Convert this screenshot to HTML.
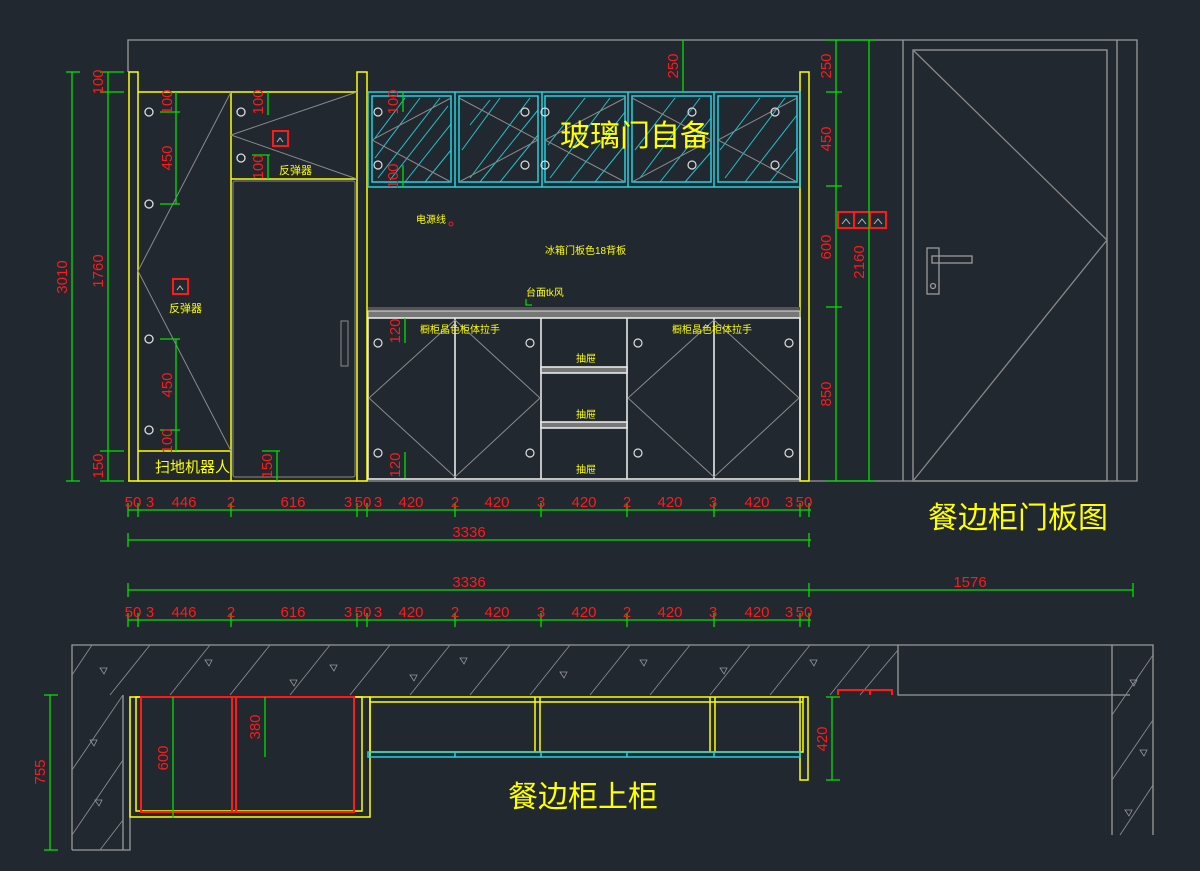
<!DOCTYPE html>
<html><head><meta charset="utf-8"><style>
html,body{margin:0;padding:0;background:#212830;}
svg{display:block;}
.r{fill:#ff1a1a;font-family:"Liberation Sans Narrow","Liberation Sans",sans-serif;font-size:15px;}
.y{fill:#ffff00;font-family:"Liberation Sans","Noto Sans CJK SC",sans-serif;}
</style></head><body>
<svg width="1200" height="871" viewBox="0 0 1200 871" xmlns="http://www.w3.org/2000/svg">
<rect width="1200" height="871" fill="#212830"/>
<!-- outer gray -->
<g stroke="#9a9a9a" fill="none" stroke-width="1.3">
<path d="M128 72V40H1137V481H128"/>
<line x1="903" y1="40" x2="903" y2="481"/>
<line x1="1117" y1="40" x2="1117" y2="481"/>
<rect x="913" y="50" width="194" height="431"/>
<path d="M913 50L1107 240L913 481" stroke="#888"/>
<rect x="927" y="248" width="12" height="46"/>
<rect x="932" y="256" width="40" height="7"/>
<circle cx="933" cy="286" r="2.5"/>
</g>
<!-- left tall section -->
<g stroke="#ffff00" fill="none" stroke-width="1.5">
<rect x="129" y="72" width="9" height="409"/>
<rect x="357" y="72" width="10" height="409"/>
<rect x="800" y="72" width="9" height="409"/>
<line x1="138" y1="92" x2="357" y2="92"/>
<line x1="231" y1="92" x2="231" y2="481"/>
<line x1="138" y1="451" x2="231" y2="451"/>
<line x1="231" y1="179" x2="357" y2="179"/>
<line x1="138" y1="481" x2="357" y2="481"/>
</g>
<g stroke="#8a8a8a" fill="none" stroke-width="1">
<path d="M231 92L138 271L231 451"/>
<path d="M357 92L231 135L357 179"/>
<rect x="233" y="181" width="122" height="296" rx="2"/>
<rect x="341" y="321" width="7" height="45"/>
</g>
<!-- hinge circles -->
<g stroke="#ddd" fill="none" stroke-width="1.3">
<circle cx="149" cy="112" r="4"/><circle cx="149" cy="204" r="4"/><circle cx="149" cy="339" r="4"/><circle cx="149" cy="430" r="4"/>
<circle cx="241" cy="112" r="4"/><circle cx="241" cy="158" r="4"/>
</g>
<!-- sockets -->
<g stroke="#ff1a1a" fill="none" stroke-width="2">
<rect x="173" y="279" width="15" height="15"/>
<rect x="273" y="131" width="15" height="15"/>
<rect x="838" y="212" width="16" height="16"/><rect x="854" y="212" width="16" height="16"/><rect x="870" y="212" width="16" height="16"/>
</g>
<g stroke="#bbb" fill="none" stroke-width="1">
<path d="M177 290l3-4l3 4"/><path d="M277 142l3-4l3 4"/>
<path d="M842 224l4-5l4 5"/><path d="M858 224l4-5l4 5"/><path d="M874 224l4-5l4 5"/>
</g>
<text class="y" x="169" y="312" font-size="11">反弹器</text>
<text class="y" x="279" y="174" font-size="11">反弹器</text>
<text class="y" x="155" y="472" font-size="15">扫地机器人</text>
<!-- glass upper -->
<g stroke="#22d3e0" fill="none" stroke-width="1.5">
<rect x="368" y="92" width="432" height="95"/>
<rect x="372" y="96" width="79" height="86"/><rect x="459" y="96" width="79" height="86"/><rect x="545" y="96" width="80" height="86"/><rect x="632" y="96" width="79" height="86"/><rect x="718" y="96" width="79" height="86"/>
<line x1="455" y1="92" x2="455" y2="187"/><line x1="542" y1="92" x2="542" y2="187"/><line x1="628" y1="92" x2="628" y2="187"/><line x1="714" y1="92" x2="714" y2="187"/>
</g>
<g stroke="#22d3e0" stroke-width="1" opacity="0.9">
<path d="M378 178L440 98M390 180L448 106M405 182L451 124M375 158L420 98M375 138L405 98M425 182L451 150"/>
<path d="M470 178L530 98M480 182L538 110M462 150L500 98M500 182L538 135M470 125L490 100"/>
<path d="M550 178L610 98M570 182L625 112M548 145L585 98M595 182L625 145"/>
<path d="M640 178L700 98M660 182L711 118M635 150L675 98M685 182L711 152"/>
<path d="M725 178L785 98M745 182L797 115M720 150L760 98M770 182L797 148"/>
</g>
<g stroke="#8a8a8a" fill="none" stroke-width="1">
<path d="M451 98L372 140L451 182"/><path d="M459 98L538 140L459 182"/><path d="M625 98L545 140L625 182"/><path d="M632 98L711 140L632 182"/><path d="M797 98L718 140L797 182"/>
</g>
<g stroke="#ddd" fill="none" stroke-width="1.2">
<circle cx="378" cy="112" r="4"/><circle cx="378" cy="165" r="4"/><circle cx="525" cy="112" r="4"/><circle cx="525" cy="165" r="4"/><circle cx="545" cy="112" r="4"/><circle cx="545" cy="165" r="4"/><circle cx="692" cy="112" r="4"/><circle cx="692" cy="165" r="4"/><circle cx="775" cy="112" r="4"/><circle cx="775" cy="165" r="4"/>
</g>
<text class="y" x="560" y="146" font-size="30">玻璃门自备</text>
<text class="y" x="416" y="223" font-size="10">电源线</text>
<circle cx="451" cy="224" r="2" fill="none" stroke="#ff1a1a"/>
<text class="y" x="545" y="254" font-size="10">冰箱门板色18背板</text>
<text class="y" x="526" y="296" font-size="10">台面tk风</text>
<path d="M526 299V305h6" stroke="#00ff00" fill="none"/>
<!-- countertop -->
<rect x="368" y="307" width="432" height="4" fill="#555"/>
<rect x="368" y="311" width="432" height="7" fill="#777" stroke="#ddd" stroke-width="1"/>
<!-- lower cabinets -->
<g stroke="#e8e8e8" fill="none" stroke-width="1.6">
<rect x="368" y="318" width="432" height="161"/>
<line x1="455" y1="318" x2="455" y2="479"/><line x1="541" y1="318" x2="541" y2="479"/><line x1="627" y1="318" x2="627" y2="479"/><line x1="714" y1="318" x2="714" y2="479"/>
<rect x="541" y="367" width="86" height="6" fill="#777"/>
<rect x="541" y="422" width="86" height="6" fill="#777"/>
</g>
<g stroke="#8a8a8a" fill="none" stroke-width="1">
<path d="M455 320L369 398L455 477"/><path d="M455 320L540 398L455 477"/><path d="M714 320L628 398L714 477"/><path d="M714 320L799 398L714 477"/>
</g>
<g stroke="#ddd" fill="none" stroke-width="1.2">
<circle cx="378" cy="343" r="4"/><circle cx="378" cy="453" r="4"/><circle cx="530" cy="343" r="4"/><circle cx="530" cy="453" r="4"/><circle cx="638" cy="343" r="4"/><circle cx="638" cy="453" r="4"/><circle cx="789" cy="343" r="4"/><circle cx="789" cy="453" r="4"/>
</g>
<text class="y" x="420" y="333" font-size="10">橱柜晶色柜体拉手</text>
<text class="y" x="672" y="333" font-size="10">橱柜晶色柜体拉手</text>
<text class="y" x="576" y="362" font-size="10">抽屉</text>
<text class="y" x="576" y="418" font-size="10">抽屉</text>
<text class="y" x="576" y="473" font-size="10">抽屉</text>
<!-- green dims vertical -->
<g stroke="#00e000" fill="none" stroke-width="1.3">
<line x1="72" y1="72" x2="72" y2="481"/><line x1="66" y1="72" x2="80" y2="72"/><line x1="66" y1="481" x2="80" y2="481"/>
<line x1="108" y1="72" x2="108" y2="481"/>
<line x1="100" y1="72" x2="124" y2="72"/><line x1="100" y1="92" x2="124" y2="92"/><line x1="100" y1="451" x2="124" y2="451"/><line x1="100" y1="481" x2="124" y2="481"/>
<line x1="176" y1="92" x2="176" y2="204"/><line x1="160" y1="112" x2="180" y2="112"/><line x1="160" y1="204" x2="180" y2="204"/>
<line x1="176" y1="339" x2="176" y2="451"/><line x1="160" y1="339" x2="180" y2="339"/><line x1="160" y1="430" x2="180" y2="430"/>
<line x1="268" y1="92" x2="268" y2="115"/><line x1="268" y1="155" x2="268" y2="179"/><line x1="252" y1="155" x2="270" y2="155"/>
<line x1="277" y1="451" x2="277" y2="481"/><line x1="262" y1="451" x2="280" y2="451"/>
<line x1="403" y1="92" x2="403" y2="112"/><line x1="403" y1="165" x2="403" y2="187"/>
<line x1="405" y1="318" x2="405" y2="343"/><line x1="405" y1="452" x2="405" y2="478"/>
<line x1="683" y1="40" x2="683" y2="92"/>
<line x1="836" y1="40" x2="836" y2="481"/><line x1="869" y1="40" x2="869" y2="481"/>
<line x1="826" y1="40" x2="875" y2="40"/><line x1="826" y1="92" x2="842" y2="92"/><line x1="826" y1="186" x2="842" y2="186"/><line x1="826" y1="307" x2="842" y2="307"/><line x1="826" y1="481" x2="875" y2="481"/>
<!-- horizontal dims -->
<line x1="128" y1="510" x2="811" y2="510"/>
<line x1="128" y1="540" x2="811" y2="540"/>
<line x1="128" y1="590" x2="1133" y2="590"/>
<line x1="128" y1="620" x2="811" y2="620"/>
<path d="M128 503v14M138 503v14M231 503v14M357 503v14M367 503v14M455 503v14M541 503v14M627 503v14M714 503v14M800 503v14M809 503v14M128 533v14M809 533v14M128 583v14M809 583v14M1133 583v14M128 613v14M138 613v14M231 613v14M357 613v14M367 613v14M455 613v14M541 613v14M627 613v14M714 613v14M800 613v14M809 613v14"/>
</g>
<!-- red dim text vertical -->
<g class="r" text-anchor="middle">
<text transform="translate(67,277) rotate(-90)">3010</text>
<text transform="translate(103,82) rotate(-90)">100</text>
<text transform="translate(103,271) rotate(-90)">1760</text>
<text transform="translate(103,466) rotate(-90)">150</text>
<text transform="translate(172,102) rotate(-90)">100</text>
<text transform="translate(172,158) rotate(-90)">450</text>
<text transform="translate(172,385) rotate(-90)">450</text>
<text transform="translate(172,441) rotate(-90)">100</text>
<text transform="translate(263,102) rotate(-90)">100</text>
<text transform="translate(263,167) rotate(-90)">100</text>
<text transform="translate(272,466) rotate(-90)">150</text>
<text transform="translate(398,102) rotate(-90)">100</text>
<text transform="translate(398,176) rotate(-90)">100</text>
<text transform="translate(400,331) rotate(-90)">120</text>
<text transform="translate(400,465) rotate(-90)">120</text>
<text transform="translate(678,66) rotate(-90)">250</text>
<text transform="translate(831,66) rotate(-90)">250</text>
<text transform="translate(831,139) rotate(-90)">450</text>
<text transform="translate(831,247) rotate(-90)">600</text>
<text transform="translate(831,394) rotate(-90)">850</text>
<text transform="translate(864,262) rotate(-90)">2160</text>
</g>
<g class="r" text-anchor="middle">
<text x="133" y="507">50</text><text x="150" y="507">3</text><text x="184" y="507">446</text><text x="231" y="507">2</text><text x="293" y="507">616</text><text x="348" y="507">3</text><text x="363" y="507">50</text><text x="378" y="507">3</text><text x="411" y="507">420</text><text x="455" y="507">2</text><text x="497" y="507">420</text><text x="541" y="507">3</text><text x="584" y="507">420</text><text x="627" y="507">2</text><text x="670" y="507">420</text><text x="713" y="507">3</text><text x="757" y="507">420</text><text x="789" y="507">3</text><text x="804" y="507">50</text>
<text x="469" y="537">3336</text>
<text x="469" y="587">3336</text><text x="970" y="587">1576</text>
<text x="133" y="617">50</text><text x="150" y="617">3</text><text x="184" y="617">446</text><text x="231" y="617">2</text><text x="293" y="617">616</text><text x="348" y="617">3</text><text x="363" y="617">50</text><text x="378" y="617">3</text><text x="411" y="617">420</text><text x="455" y="617">2</text><text x="497" y="617">420</text><text x="541" y="617">3</text><text x="584" y="617">420</text><text x="627" y="617">2</text><text x="670" y="617">420</text><text x="713" y="617">3</text><text x="757" y="617">420</text><text x="789" y="617">3</text><text x="804" y="617">50</text>
</g>
<text class="y" x="928" y="528" font-size="30">餐边柜门板图</text>
<!-- plan view -->
<g stroke="#9a9a9a" fill="none" stroke-width="1.3">
<path d="M72 850V645H1153V835"/>
<path d="M898 645V695H1130"/>
<path d="M1112 645V835"/>
<path d="M72 850H130V697H370"/>
<path d="M123 695V850"/>
</g>
<g stroke="#8a8a8a" stroke-width="0.9">
<path d="M92 645L72 675M150 645L110 695M210 645L170 695M270 645L230 695M330 645L290 695M390 645L350 695M450 645L410 695M510 645L470 695M570 645L530 695M630 645L590 695M690 645L650 695M750 645L710 695M810 645L770 695M870 645L830 695M898 650L860 695"/>
<path d="M123 695L72 770M123 760L72 835M123 820L100 850"/>
<path d="M1153 655L1112 715M1153 720L1112 780M1153 785L1120 835"/>
</g>
<g fill="none" stroke="#999" stroke-width="0.8">
<path d="M100 668l4 6l3-6zM205 660l4 6l3-6zM330 665l4 6l3-6zM460 658l4 6l3-6zM560 672l4 6l3-6zM640 660l4 6l3-6zM720 668l4 6l3-6zM810 660l4 6l3-6zM90 740l4 6l3-6zM95 800l4 6l3-6zM1130 680l4 6l3-6zM1140 750l4 6l3-6zM1125 810l4 6l3-6zM290 680l4 6l3-6zM410 675l4 6l3-6z"/>
</g>
<g stroke="#ffff00" fill="none" stroke-width="1.5">
<rect x="130" y="697" width="240" height="120"/>
<rect x="136" y="697" width="226" height="114"/>
<rect x="370" y="697" width="433" height="55"/>
<line x1="370" y1="702" x2="803" y2="702"/>
<line x1="535" y1="697" x2="535" y2="752"/><line x1="540" y1="697" x2="540" y2="752"/>
<line x1="710" y1="697" x2="710" y2="752"/><line x1="715" y1="697" x2="715" y2="752"/>
<rect x="800" y="697" width="8" height="83"/>
</g>
<g stroke="#ff1a1a" fill="none" stroke-width="2">
<rect x="141" y="697" width="213" height="115"/>
<line x1="232" y1="697" x2="232" y2="812"/><line x1="236" y1="697" x2="236" y2="812"/>
<path d="M838 695V690H892V695M870 690V695"/>
</g>
<g stroke="#22d3e0" fill="none" stroke-width="1.5">
<rect x="368" y="752" width="432" height="5"/>
<path d="M455 752v5M541 752v5M627 752v5M714 752v5"/>
</g>
<g stroke="#00e000" fill="none" stroke-width="1.3">
<line x1="50" y1="695" x2="50" y2="850"/><line x1="44" y1="695" x2="58" y2="695"/><line x1="44" y1="850" x2="58" y2="850"/>
<line x1="173" y1="697" x2="173" y2="818"/>
<line x1="265" y1="697" x2="265" y2="757"/>
<line x1="832" y1="697" x2="832" y2="780"/><line x1="826" y1="780" x2="840" y2="780"/><line x1="826" y1="697" x2="840" y2="697"/>
</g>
<g class="r" text-anchor="middle">
<text transform="translate(45,772) rotate(-90)">755</text>
<text transform="translate(168,758) rotate(-90)">600</text>
<text transform="translate(260,727) rotate(-90)">380</text>
<text transform="translate(827,739) rotate(-90)">420</text>
</g>
<text class="y" x="508" y="807" font-size="30">餐边柜上柜</text>
</svg>
</body></html>
